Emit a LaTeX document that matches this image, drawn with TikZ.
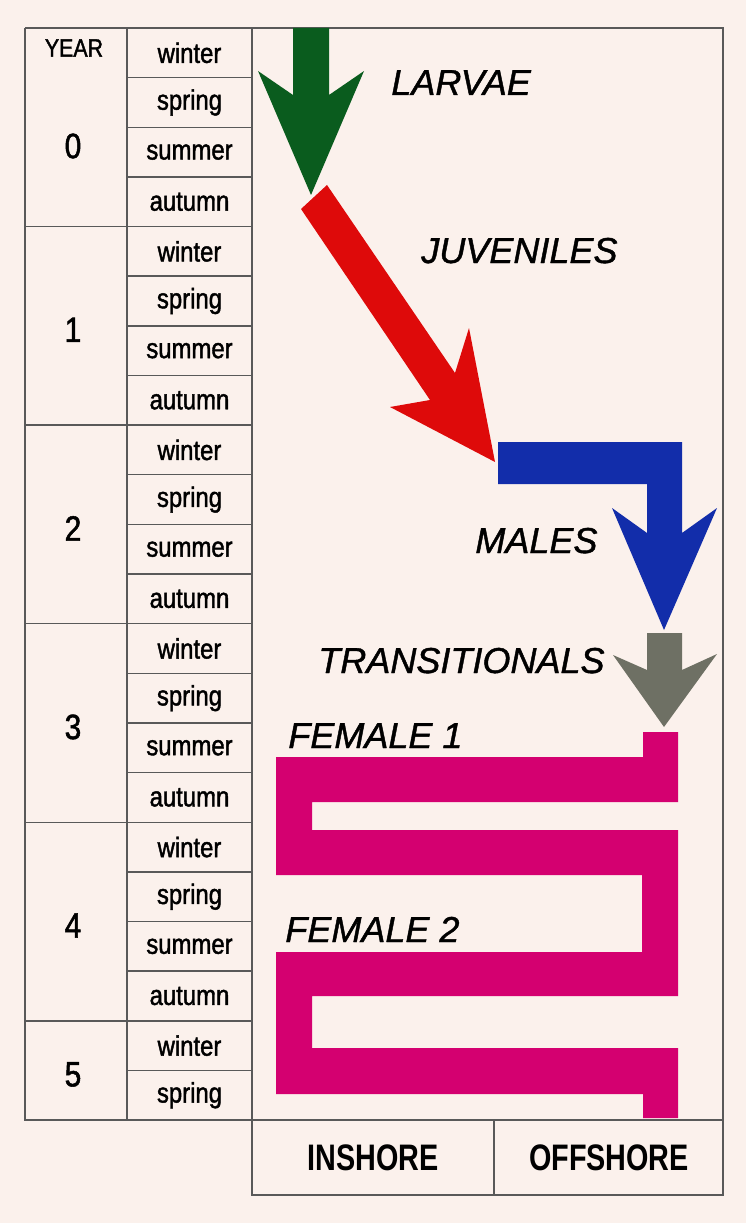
\documentclass[tikz,border=0pt]{standalone}
\usepackage{fontspec}
\setmainfont{Liberation Sans}
\newfontfamily\tablefont[FakeStretch=0.85,FakeBold=1.5]{Liberation Sans}
\newfontfamily\shorefont[FakeStretch=0.78]{Liberation Sans}
\newfontfamily\stagefont[FakeBold=1.2]{Liberation Sans}
\usepackage{xcolor}
\usepackage{tikz}
\usetikzlibrary{positioning}

\definecolor{paper}{RGB}{251,241,236}
\definecolor{larvgreen}{RGB}{10,92,30}
\definecolor{juvred}{RGB}{222,10,10}
\definecolor{maleblue}{RGB}{18,45,170}
\definecolor{transgray}{RGB}{110,112,100}
\definecolor{femmagenta}{RGB}{212,0,112}

\begin{document}
\begin{tikzpicture}[x=0.02cm,y=-0.02cm,grid/.style={draw=black!65, line width=0.8pt}]
        \tikzstyle{season} = [font=\tablefont\fontsize{16}{16}\selectfont, inner sep=0pt]
        \tikzstyle{yearnum} = [font=\tablefont\fontsize{20}{20}\selectfont, inner sep=0pt]
        \tikzstyle{stage} = [font=\stagefont\itshape\fontsize{20.5}{20.5}\selectfont, inner sep=0pt, anchor=base west]
        \tikzstyle{shore} = [font=\shorefont\bfseries\fontsize{21}{21}\selectfont, inner sep=0pt]

        \fill[paper] (0,0) rectangle (746,1223);
        \useasboundingbox (0,0) rectangle (746,1223);

        % table of seasons
        \foreach \s [count=\i from 0] in {winter,spring,summer,autumn,winter,spring,summer,autumn,winter,spring,summer,autumn,winter,spring,summer,autumn,winter,spring,summer,autumn,winter,spring}
            \node[season] (s\i) at (189.5,{28+(\i+0.5)*49.64}) {\s};
        \foreach \i in {1,...,21}
            \draw[grid] (127,{28+\i*49.64}) -- (252,{28+\i*49.64});
        \foreach \r in {4,8,12,16,20}
            \draw[grid] (25,{28+\r*49.64}) -- (127,{28+\r*49.64});
        \draw[grid] (25,28) -- (723,28) -- (723,1195) -- (252,1195) -- (252,28);
        \draw[grid] (25,28) -- (25,1120) -- (723,1120);
        \draw[grid] (127,28) -- (127,1120);
        \draw[grid] (494,1120) -- (494,1195);

        \node[season, font=\tablefont\fontsize{14.3}{14.3}\selectfont] (yearhead) at (74,48) {YEAR};
        \node[yearnum] (year0) at (73,146) {0};
        \foreach \y/\r in {1/6,2/10,3/14,4/18,5/21}
            \node[yearnum] (year\y) at (73,{32+\r*49.64}) {\y};

        \node[shore] (inshore) at (373,1158) {INSHORE};
        \node[shore] (offshore) at (609,1158) {OFFSHORE};

        % life stages
        \fill[larvgreen] (293,28) -- (329,28) -- (329,95) -- (364,71) -- (311,195) -- (258,71) -- (293,95) -- cycle;
        \fill[juvred] (327,185) -- (455,373) -- (469,328) -- (495,462) -- (390,407) -- (430,400) -- (301,209) -- cycle;
        \fill[maleblue] (498,442) -- (682,442) -- (682,533) -- (717,508) -- (664,630) -- (612,508) -- (647,533) -- (647,484) -- (498,484) -- cycle;
        \fill[transgray] (647,633) -- (682,633) -- (682,670) -- (717,654) -- (664,727) -- (613,655) -- (647,670) -- cycle;
        \fill[femmagenta] (643,732) -- (678,732) -- (678,802) -- (312,802) -- (312,830) -- (678,830) -- (678,996) -- (312,996) -- (312,1048) -- (678,1048) -- (678,1118) -- (643,1118) -- (643,1094) -- (276,1094) -- (276,952) -- (642,952) -- (642,875) -- (276,875) -- (276,757) -- (643,757) -- cycle;

        \node[stage] (larvae) at (391,95) {LARVAE};
        \node[stage] (juveniles) at (421,263) {JUVENILES};
        \node[stage] (males) at (475,553) {MALES};
        \node[stage] (transitionals) at (318,673) {TRANSITIONALS};
        \node[stage] (female1) at (288,748) {FEMALE 1};
        \node[stage] (female2) at (285,942) {FEMALE 2};
\end{tikzpicture}
\end{document}
